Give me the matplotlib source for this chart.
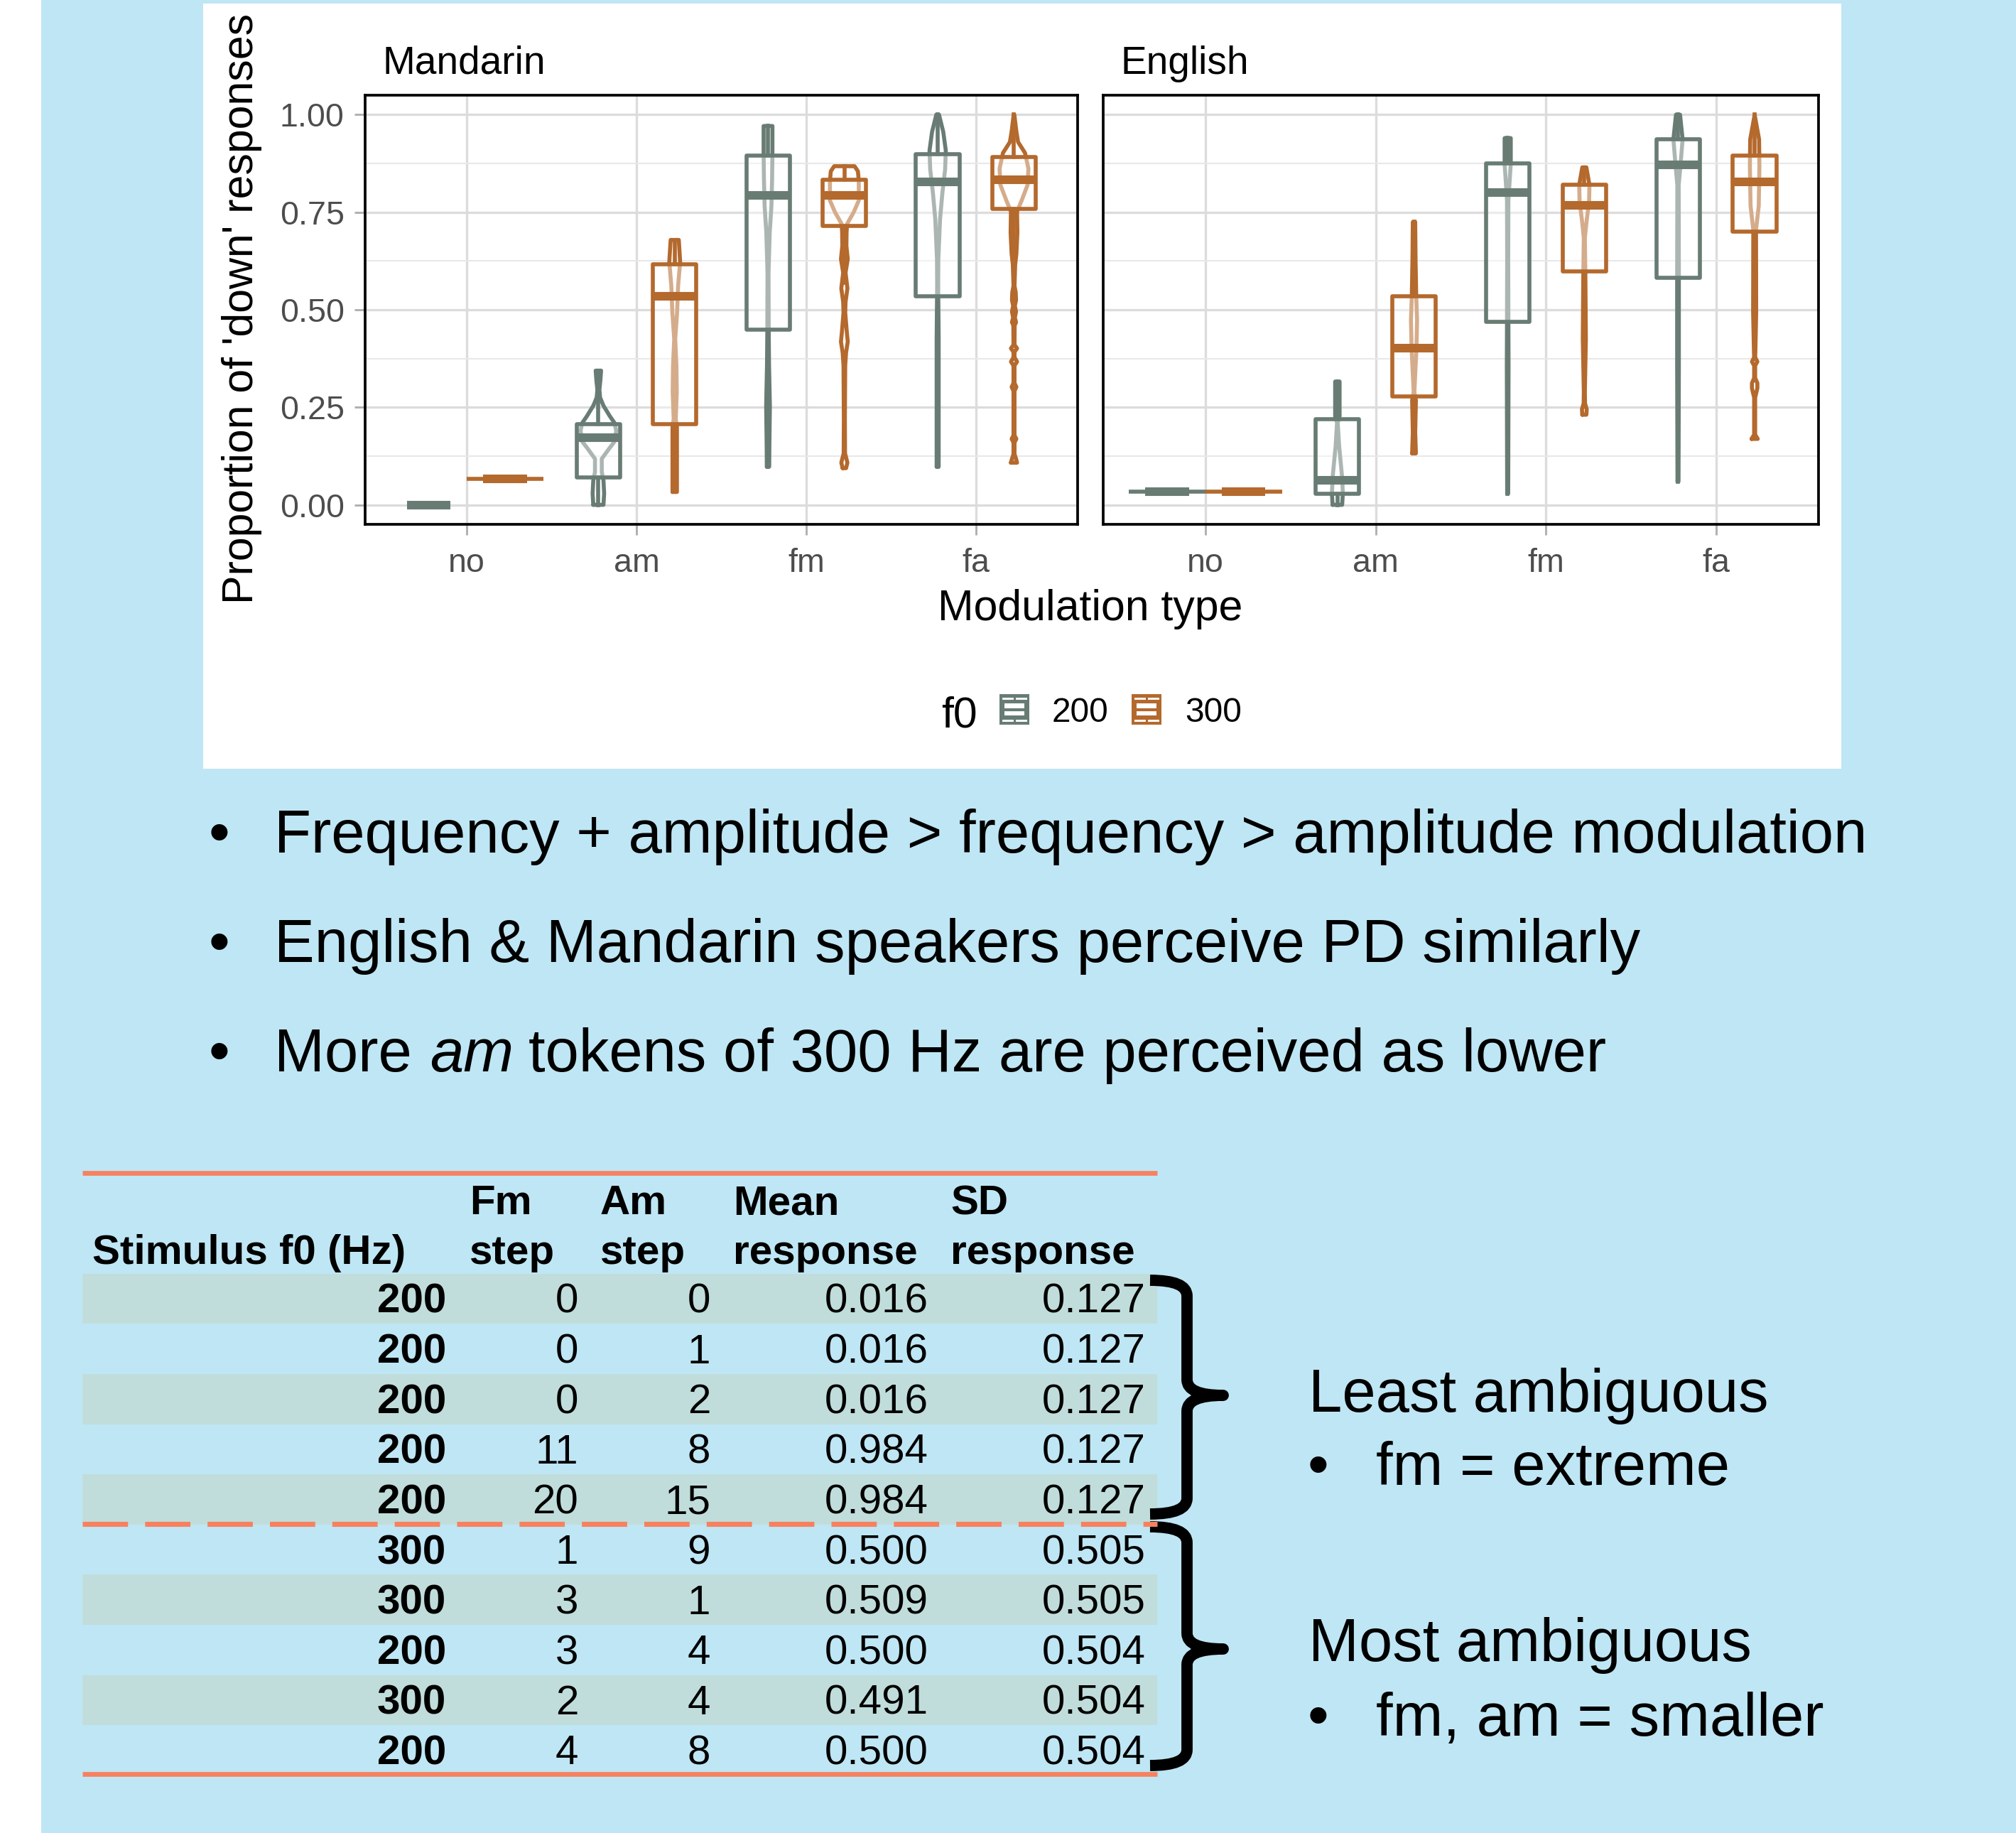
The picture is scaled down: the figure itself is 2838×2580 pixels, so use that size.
import matplotlib
matplotlib.use("Agg")
import matplotlib.pyplot as plt
from matplotlib.patches import Rectangle, PathPatch
from matplotlib.path import Path
import numpy as np

plt.rcParams['font.family'] = ['Liberation Sans', 'DejaVu Sans']

W, H = 2838, 2580
DPI = 300

# ---------------- chart data ----------------
categories = ['no', 'am', 'fm', 'fa']
f0_levels = ['200', '300']

# box stats per category: (q1, median, q3, whisker low, whisker high)
box_man_200 = [(0.000, 0.000, 0.000, 0.000, 0.000),
               (0.070, 0.173, 0.207, 0.000, 0.344),
               (0.449, 0.793, 0.896, 0.098, 0.971),
               (0.534, 0.827, 0.899, 0.098, 1.000)]
box_man_300 = [(0.066, 0.066, 0.066, 0.066, 0.066),
               (0.207, 0.534, 0.616, 0.033, 0.679),
               (0.715, 0.793, 0.834, 0.570, 0.868),
               (0.759, 0.834, 0.892, 0.560, 1.000)]
box_eng_200 = [(0.033, 0.033, 0.033, 0.033, 0.033),
               (0.029, 0.063, 0.220, 0.000, 0.316),
               (0.469, 0.800, 0.875, 0.029, 0.940),
               (0.582, 0.872, 0.937, 0.060, 1.000)]
box_eng_300 = [(0.034, 0.034, 0.034, 0.034, 0.034),
               (0.278, 0.401, 0.534, 0.132, 0.725),
               (0.599, 0.767, 0.820, 0.300, 0.865),
               (0.700, 0.827, 0.896, 0.410, 1.000)]

# violin outlines: (response, half width)
vio_man_200_no = []
vio_man_200_am = [(0.0, 0.030), (0.029, 0.034), (0.063, 0.030), (0.084, 0.020), (0.118, 0.020),
                  (0.145, 0.065), (0.162, 0.095), (0.19, 0.105), (0.21, 0.095), (0.227, 0.068),
                  (0.254, 0.030), (0.275, 0.010), (0.295, 0.006), (0.32, 0.012), (0.344, 0.016)]
vio_man_200_fm = [(0.098, 0.007), (0.152, 0.008), (0.254, 0.011), (0.357, 0.006), (0.452, 0.004),
                  (0.595, 0.003), (0.698, 0.010), (0.766, 0.020), (0.834, 0.024), (0.902, 0.026),
                  (0.971, 0.026)]
vio_man_200_fa = [(0.098, 0.006), (0.22, 0.006), (0.425, 0.006), (0.561, 0.003), (0.63, 0.004),
                  (0.732, 0.014), (0.80, 0.028), (0.86, 0.044), (0.908, 0.048), (0.956, 0.033),
                  (1.0, 0.008)]
vio_man_300_no = [(0.066, 0.225)]
vio_man_300_am = [(0.033, 0.013), (0.10, 0.013), (0.20, 0.013), (0.22, 0.006), (0.289, 0.012),
                  (0.357, 0.010), (0.425, 0.003), (0.493, 0.014), (0.561, 0.020), (0.623, 0.032),
                  (0.679, 0.024)]
vio_man_300_fm = [(0.094, 0.010), (0.108, 0.018), (0.132, 0.004), (0.22, 0.003), (0.357, 0.005),
                  (0.39, 0.010), (0.418, 0.020), (0.445, 0.014), (0.493, 0.005), (0.52, 0.007),
                  (0.555, 0.018), (0.595, 0.007), (0.63, 0.020), (0.664, 0.012), (0.698, 0.013),
                  (0.72, 0.016), (0.75, 0.055), (0.78, 0.085), (0.83, 0.085), (0.855, 0.080),
                  (0.868, 0.060)]
vio_man_300_fa = [(0.108, 0.018), (0.118, 0.012), (0.13, 0.003), (0.16, 0.003), (0.169, 0.014),
                  (0.178, 0.003), (0.292, 0.003), (0.302, 0.014), (0.312, 0.003), (0.357, 0.003),
                  (0.367, 0.018), (0.378, 0.003), (0.392, 0.003), (0.401, 0.018), (0.41, 0.003),
                  (0.46, 0.004), (0.468, 0.012), (0.48, 0.005), (0.495, 0.012), (0.51, 0.005),
                  (0.525, 0.012), (0.545, 0.010), (0.561, 0.003), (0.616, 0.007), (0.643, 0.014),
                  (0.698, 0.020), (0.752, 0.018), (0.78, 0.045), (0.82, 0.080), (0.862, 0.085),
                  (0.902, 0.065), (0.93, 0.024), (0.957, 0.014), (1.0, 0.002)]
vio_eng_200_no = [(0.033, 0.225)]
vio_eng_200_am = [(0.0, 0.028), (0.029, 0.032), (0.07, 0.028), (0.152, 0.010), (0.21, 0.002),
                  (0.227, 0.013), (0.316, 0.013)]
vio_eng_200_fm = [(0.029, 0.003), (0.357, 0.005), (0.473, 0.004), (0.63, 0.003), (0.78, 0.004),
                  (0.834, 0.012), (0.875, 0.018), (0.94, 0.018)]
vio_eng_200_fa = [(0.06, 0.003), (0.357, 0.005), (0.575, 0.005), (0.82, 0.004), (0.868, 0.014),
                  (0.937, 0.027), (1.0, 0.012)]
vio_eng_300_no = [(0.034, 0.225)]
vio_eng_300_am = [(0.132, 0.011), (0.186, 0.007), (0.268, 0.011), (0.289, 0.002), (0.398, 0.014),
                  (0.473, 0.018), (0.534, 0.013), (0.63, 0.009), (0.725, 0.007)]
vio_eng_300_fm = [(0.231, 0.012), (0.245, 0.014), (0.26, 0.004), (0.289, 0.003), (0.425, 0.009),
                  (0.595, 0.006), (0.684, 0.003), (0.73, 0.014), (0.777, 0.028), (0.82, 0.030),
                  (0.865, 0.012)]
vio_eng_300_fa = [(0.169, 0.018), (0.18, 0.003), (0.275, 0.003), (0.299, 0.016), (0.312, 0.016),
                  (0.325, 0.003), (0.357, 0.003), (0.367, 0.016), (0.378, 0.003), (0.39, 0.004),
                  (0.493, 0.009), (0.705, 0.008), (0.766, 0.024), (0.868, 0.028), (0.937, 0.026),
                  (1.0, 0.0)]

violins = {
    ('Mandarin', '200'): [vio_man_200_no, vio_man_200_am, vio_man_200_fm, vio_man_200_fa],
    ('Mandarin', '300'): [vio_man_300_no, vio_man_300_am, vio_man_300_fm, vio_man_300_fa],
    ('English', '200'): [vio_eng_200_no, vio_eng_200_am, vio_eng_200_fm, vio_eng_200_fa],
    ('English', '300'): [vio_eng_300_no, vio_eng_300_am, vio_eng_300_fm, vio_eng_300_fa],
}
boxes = {
    ('Mandarin', '200'): box_man_200, ('Mandarin', '300'): box_man_300,
    ('English', '200'): box_eng_200, ('English', '300'): box_eng_300,
}

# table
stim_f0 = [200, 200, 200, 200, 200, 300, 300, 200, 300, 200]
fm_step = [0, 0, 0, 11, 20, 1, 3, 3, 2, 4]
am_step = [0, 1, 2, 8, 15, 9, 1, 4, 4, 8]
mean_resp = [0.016, 0.016, 0.016, 0.984, 0.984, 0.500, 0.509, 0.500, 0.491, 0.500]
sd_resp = [0.127, 0.127, 0.127, 0.127, 0.127, 0.505, 0.505, 0.504, 0.504, 0.504]

bullets = ['Frequency + amplitude > frequency > amplitude modulation',
           'English & Mandarin speakers perceive PD similarly']

# ---------------- styling ----------------
col = {'200': '#687C74', '300': '#B4692D'}
blue_bg = '#BFE6F4'
salmon = '#F7815F'
shade = '#C0DDDB'
LW = 1.35   # outline width of violins / boxes
DY = 5      # small downward nudge for text (pixels)

fig = plt.figure(figsize=(W / DPI, H / DPI), dpi=DPI, facecolor=blue_bg)

# background axes in pixel coordinates
bg = fig.add_axes([0, 0, 1, 1], zorder=0)
bg.set_xlim(0, W)
bg.set_ylim(H, 0)
bg.axis('off')
bg.add_patch(Rectangle((0, 0), 58, H, facecolor='white', edgecolor='none'))
bg.add_patch(Rectangle((286, 5), 2592 - 286, 1082 - 5, facecolor='white', edgecolor='none'))


def draw_violin(ax, xc, pts, color):
    if not pts:
        return
    if len(pts) == 1:
        y, hw = pts[0]
        ax.plot([xc - hw, xc + hw], [y, y], color=color, lw=LW, solid_capstyle='butt', zorder=3)
        return
    ys = np.array([p[0] for p in pts])
    hw = np.array([p[1] for p in pts])
    xs = np.concatenate([xc - hw, (xc + hw)[::-1], [xc - hw[0]]])
    yy = np.concatenate([ys, ys[::-1], [ys[0]]])
    ax.plot(xs, yy, color=color, lw=LW, solid_joinstyle='round', solid_capstyle='round', zorder=3)


def draw_box(ax, xc, stats, color):
    q1, med, q3, lo, hi = stats
    bw = 0.128
    ax.plot([xc, xc], [q3, hi], color=color, lw=LW, zorder=4)
    ax.plot([xc, xc], [lo, q1], color=color, lw=LW, zorder=4)
    ax.add_patch(Rectangle((xc - bw, q1), 2 * bw, q3 - q1, facecolor=(1, 1, 1, 0.45),
                           edgecolor=color, lw=LW, joinstyle='round', zorder=5))
    ax.plot([xc - bw, xc + bw], [med, med], color=color, lw=2.9, solid_capstyle='butt', zorder=6)


panel_px = {'Mandarin': (514, 1517), 'English': (1553, 2560)}
ax_top, ax_bot = 134, 738
offsets = {'200': -0.225, '300': 0.225}

for i, panel in enumerate(['Mandarin', 'English']):
    x0, x1 = panel_px[panel]
    ax = fig.add_axes([x0 / W, 1 - ax_bot / H, (x1 - x0) / W, (ax_bot - ax_top) / H], zorder=1)
    ax.set_facecolor('white')
    ax.set_xlim(0.4, 4.6)
    ax.set_ylim(-0.05, 1.05)
    ax.set_yticks([0, 0.25, 0.5, 0.75, 1.0])
    ax.set_yticks([0.125, 0.375, 0.625, 0.875], minor=True)
    ax.set_xticks(range(1, 5))
    ax.set_xticklabels(categories)
    ax.grid(True, which='major', color='#DCDCDC', lw=0.8, zorder=0)
    ax.grid(True, which='minor', axis='y', color='#E8E8E8', lw=0.5, zorder=0)
    ax.set_axisbelow(True)
    for s in ax.spines.values():
        s.set_color('black')
        s.set_linewidth(0.9)
    ax.tick_params(axis='both', which='major', length=3.5, width=0.7, color='#B0B0B0',
                   labelsize=11.2, labelcolor='#4D4D4D', pad=3.5)
    ax.tick_params(axis='x', which='major', pad=4.5)
    ax.tick_params(axis='y', which='minor', length=0)
    if i == 0:
        ax.set_yticklabels(['0.00', '0.25', '0.50', '0.75', '1.00'])
    else:
        ax.tick_params(axis='y', which='major', length=0, labelleft=False)
    for f in f0_levels:
        for k, cat in enumerate(categories):
            xc = k + 1 + offsets[f]
            draw_violin(ax, xc, violins[(panel, f)][k], col[f])
            draw_box(ax, xc, boxes[(panel, f)][k], col[f])

# facet titles and axis titles
bg.text(538, 85 + DY, 'Mandarin', fontsize=13.2, ha='left', va='center', color='black')
bg.text(1577, 85 + DY, 'English', fontsize=13.2, ha='left', va='center', color='black')
bg.text(340, 434, "Proportion of 'down' responses", fontsize=14.6, rotation=90,
        ha='center', va='center')
bg.text(1535, 852 + DY, 'Modulation type', fontsize=14.6, ha='center', va='center')

# legend
bg.text(1350, 1003 + DY, 'f0', fontsize=14.6, ha='center', va='center')
for f, kx, tx in [('200', 1407, 1481), ('300', 1593, 1668)]:
    bg.add_patch(Rectangle((kx, 977), 42, 43, facecolor=col[f], edgecolor='none'))
    for yy in (983, 1014):
        bg.plot([kx + 5, kx + 18], [yy, yy], color='white', lw=0.7)
        bg.plot([kx + 24, kx + 37], [yy, yy], color='white', lw=0.7)
    bg.add_patch(Rectangle((kx + 7, 990), 28, 17, facecolor='white', edgecolor='none'))
    bg.plot([kx + 7, kx + 35], [998.5, 998.5], color=col[f], lw=1.0)
    bg.text(tx, 999 + DY, f, fontsize=11.5, ha='left', va='center')

# bullet points
bullet_y = [1173 + DY, 1327 + DY, 1481 + DY]
for yy, txt in zip(bullet_y[:2], bullets):
    bg.text(308, yy, '\u2022', fontsize=20.4, ha='center', va='center')
    bg.text(386, yy, txt, fontsize=20.4, ha='left', va='center')
bg.text(308, bullet_y[2], '\u2022', fontsize=20.4, ha='center', va='center')
bg.text(386, bullet_y[2], 'More', fontsize=20.4, ha='left', va='center')
bg.text(605, bullet_y[2], 'am', fontsize=20.4, ha='left', va='center', style='italic')
bg.text(744, bullet_y[2], 'tokens of 300 Hz are perceived as lower', fontsize=20.4,
        ha='left', va='center')

# table
tx0, tx1 = 116, 1629
row_y0, row_h = 1828, 70.6
for r in range(len(stim_f0)):
    yc = row_y0 + r * row_h
    if r % 2 == 0:
        bg.add_patch(Rectangle((tx0, yc - row_h / 2), tx1 - tx0, row_h, facecolor=shade,
                               edgecolor='none'))
    ty = yc + DY
    bg.text(628, ty, str(stim_f0[r]), fontsize=14, fontweight='bold', ha='right', va='center')
    bg.text(814, ty, str(fm_step[r]), fontsize=14, ha='right', va='center')
    bg.text(1000, ty, str(am_step[r]), fontsize=14, ha='right', va='center')
    bg.text(1307, ty, f'{mean_resp[r]:.3f}', fontsize=14, ha='right', va='center')
    bg.text(1613, ty, f'{sd_resp[r]:.3f}', fontsize=14, ha='right', va='center')

bg.plot([tx0, tx1], [1651, 1651], color=salmon, lw=1.6, solid_capstyle='butt')
bg.plot([tx0, tx1], [2497, 2497], color=salmon, lw=1.6, solid_capstyle='butt')
bg.plot([tx0, tx1], [2145, 2145], color=salmon, lw=1.7, dashes=(9.0, 3.4),
        solid_capstyle='butt', dash_capstyle='butt')

hdr1 = [('Fm', 661), ('Am', 845), ('Mean', 1032), ('SD', 1338)]
hdr2 = [('Stimulus f0 (Hz)', 130), ('step', 661), ('step', 845), ('response', 1032),
        ('response', 1338)]
for t, x in hdr1:
    bg.text(x, 1689 + DY, t, fontsize=14, fontweight='bold', ha='left', va='center')
for t, x in hdr2:
    bg.text(x, 1759 + DY, t, fontsize=14, fontweight='bold', ha='left', va='center')


# braces
def brace(ax, yt, ym, yb, x0=1619, x1=1671, x2=1722):
    r = 22
    verts = [(x0, yt), (x1, yt), (x1, yt + r),
             (x1, ym - r), (x1, ym), (x2, ym),
             (x1, ym), (x1, ym + r),
             (x1, yb - r), (x1, yb), (x0, yb)]
    codes = [Path.MOVETO, Path.CURVE3, Path.CURVE3,
             Path.LINETO, Path.CURVE3, Path.CURVE3,
             Path.CURVE3, Path.CURVE3,
             Path.LINETO, Path.CURVE3, Path.CURVE3]
    ax.add_patch(PathPatch(Path(verts, codes), facecolor='none', edgecolor='black',
                           lw=3.8, capstyle='butt', joinstyle='round'))


brace(bg, 1802, 1964, 2131)
brace(bg, 2149, 2321, 2485)

bg.text(1842, 1960 + DY, 'Least ambiguous', fontsize=20.4, ha='left', va='center')
bg.text(1855, 2063 + DY, '\u2022', fontsize=20.4, ha='center', va='center')
bg.text(1937, 2063 + DY, 'fm = extreme', fontsize=20.4, ha='left', va='center')
bg.text(1842, 2311 + DY, 'Most ambiguous', fontsize=20.4, ha='left', va='center')
bg.text(1855, 2416 + DY, '\u2022', fontsize=20.4, ha='center', va='center')
bg.text(1937, 2416 + DY, 'fm, am = smaller', fontsize=20.4, ha='left', va='center')

fig.savefig('out.png', dpi=DPI, facecolor=blue_bg)
